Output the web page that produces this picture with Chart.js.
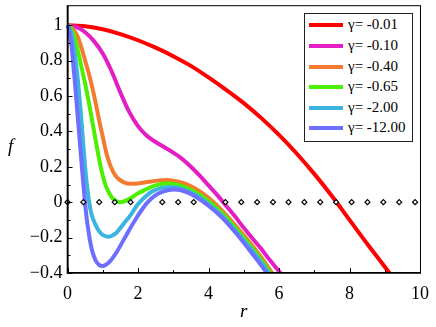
<!DOCTYPE html>
<html>
<head>
<meta charset="utf-8">
<script src="https://cdn.jsdelivr.net/npm/chart.js@4/dist/chart.umd.min.js"></script>
<style>
  html, body { margin: 0; padding: 0; background: #fff; }
  #wrap { position: relative; width: 436px; height: 327px; }
  #plot { position: absolute; left: 0; top: 0; }
  .axis-title { position: absolute; font-family: "Liberation Serif", "Times New Roman", serif; font-style: italic; font-size: 19px; color: #000; }
  #legend { position: absolute; left: 304px; top: 13px; width: 109px; height: 129px; border: 1px solid #222; box-sizing: border-box; background: #fff; }
  .leg-row { position: absolute; left: 0; height: 20px; width: 100%; }
  .leg-line { position: absolute; left: 4px; top: 8px; width: 34px; height: 4px; }
  .leg-text { position: absolute; left: 43px; top: 1px; font-family: "Liberation Serif", "Times New Roman", serif; font-size: 15px; color: #000; white-space: nowrap; }
</style>
</head>
<body>
<div id="wrap">
  <canvas id="plot" width="436" height="327"></canvas>
  <div class="axis-title" style="left:8px; top:135px;">f</div>
  <div class="axis-title" style="left:240px; top:300px;">r</div>
  <div id="legend"></div>
</div>
<script>
// ===== DATA =====
const gammaLabels = ['γ= -0.01', 'γ= -0.10', 'γ= -0.40', 'γ= -0.65', 'γ= -2.00', 'γ= -12.00'];
const lineColors = ['#ff0000', '#e31ec4', '#f47a30', '#4cf000', '#3cb4e0', '#6e6eff'];

const rRed = [0, 0.5, 1, 1.5, 2, 2.5, 3, 3.5, 4, 4.5, 5, 5.5, 6, 6.5, 7, 7.5, 8, 8.5, 9, 9.5];
const fRed = [1, 0.994, 0.977, 0.95, 0.915, 0.873, 0.825, 0.77, 0.705, 0.635, 0.56, 0.475, 0.38, 0.275, 0.16, 0.035, -0.1, -0.235, -0.365, -0.5];

const rMagenta = [0, 0.25, 0.5, 0.75, 1, 1.25, 1.5, 1.75, 2, 2.25, 2.5, 2.75, 3, 3.25, 3.5, 3.75, 4, 4.25, 4.5, 4.75, 5, 5.25, 5.5, 5.75, 6, 6.25];
const fMagenta = [1, 0.99, 0.96, 0.91, 0.84, 0.74, 0.62, 0.51, 0.43, 0.375, 0.34, 0.31, 0.28, 0.245, 0.2, 0.15, 0.095, 0.04, -0.02, -0.08, -0.145, -0.205, -0.265, -0.33, -0.39, -0.455];

const rOrange = [0, 0.1, 0.2, 0.3, 0.4, 0.5, 0.6, 0.7, 0.8, 0.9, 1, 1.1, 1.2, 1.3, 1.4, 1.6, 1.8, 2, 2.3, 2.6, 2.8, 3, 3.3, 3.6, 4, 4.4, 4.8, 5.2, 5.6, 5.9];
const fOrange = [1, 0.99, 0.965, 0.93, 0.87, 0.8, 0.73, 0.65, 0.56, 0.46, 0.37, 0.28, 0.215, 0.17, 0.14, 0.112, 0.104, 0.106, 0.115, 0.123, 0.125, 0.122, 0.108, 0.08, 0.025, -0.05, -0.14, -0.235, -0.34, -0.43];

const rGreen = [0, 0.1, 0.2, 0.3, 0.4, 0.5, 0.6, 0.7, 0.8, 0.9, 1, 1.1, 1.2, 1.3, 1.4, 1.5, 1.6, 1.8, 2, 2.2, 2.4, 2.6, 2.8, 3, 3.2, 3.6, 4, 4.4, 4.8, 5.2, 5.6, 5.85];
const fGreen = [1, 0.98, 0.93, 0.85, 0.76, 0.67, 0.57, 0.46, 0.35, 0.24, 0.15, 0.085, 0.045, 0.018, 0.005, 0, 0.004, 0.024, 0.05, 0.07, 0.088, 0.1, 0.105, 0.103, 0.095, 0.06, 0.005, -0.065, -0.155, -0.25, -0.355, -0.43];

const rCyan = [0, 0.1, 0.15, 0.2, 0.25, 0.3, 0.35, 0.4, 0.45, 0.5, 0.55, 0.6, 0.65, 0.7, 0.8, 0.9, 1, 1.15, 1.3, 1.4, 1.6, 1.8, 2, 2.2, 2.4, 2.6, 2.8, 3, 3.2, 3.6, 4, 4.4, 4.8, 5.2, 5.6, 5.8];
const fCyan = [1, 0.96, 0.91, 0.85, 0.77, 0.68, 0.57, 0.45, 0.32, 0.2, 0.1, 0.02, -0.04, -0.08, -0.13, -0.165, -0.185, -0.195, -0.185, -0.17, -0.12, -0.07, -0.01, 0.03, 0.06, 0.077, 0.085, 0.085, 0.078, 0.045, -0.01, -0.08, -0.17, -0.265, -0.37, -0.43];

const rPurple = [0, 0.05, 0.1, 0.15, 0.2, 0.25, 0.3, 0.35, 0.4, 0.45, 0.5, 0.55, 0.6, 0.65, 0.7, 0.8, 0.9, 1, 1.2, 1.4, 1.6, 1.8, 2, 2.25, 2.5, 2.75, 3, 3.25, 3.6, 4, 4.4, 4.8, 5.2, 5.6, 5.75];
const fPurple = [1, 0.97, 0.91, 0.81, 0.7, 0.58, 0.46, 0.34, 0.22, 0.1, -0.01, -0.1, -0.17, -0.23, -0.275, -0.33, -0.355, -0.36, -0.335, -0.28, -0.21, -0.14, -0.075, -0.005, 0.04, 0.063, 0.072, 0.066, 0.035, -0.02, -0.09, -0.18, -0.28, -0.385, -0.43];

// dotted zero line (diamond markers)
const rDiamonds = [0, 0.45, 0.9, 1.34, 1.79, 2.69, 3.14, 3.58, 4.48, 4.93, 5.38, 5.83, 6.27, 6.72, 7.17, 7.62, 8.06, 8.51, 8.96, 9.41, 9.86];
const fDiamonds = [0, 0, 0, 0, 0, 0, 0, 0, 0, 0, 0, 0, 0, 0, 0, 0, 0, 0, 0, 0, 0];

const curves = [[rRed, fRed], [rMagenta, fMagenta], [rOrange, fOrange], [rGreen, fGreen], [rCyan, fCyan], [rPurple, fPurple]];

const toPoints = (xs, ys) => xs.map((x, i) => ({ x, y: ys[i] }));

// ===== LEGEND (html) =====
const legendEl = document.getElementById('legend');
const rowTops = [1, 22, 42.5, 63, 83.5, 104];
legendEl.innerHTML = gammaLabels.map((lab, i) =>
  `<div class="leg-row" style="top:${rowTops[i]}px">
     <div class="leg-line" style="background:${lineColors[i]}"></div>
     <div class="leg-text">${lab}</div>
   </div>`).join('');

// ===== PLUGINS =====
const frameAndTicks = {
  id: 'frameAndTicks',
  afterDatasetsDraw(chart) {
    const { ctx, chartArea: a, scales: { x, y } } = chart;
    ctx.save();
    ctx.strokeStyle = '#000';
    ctx.lineWidth = 1;
    ctx.strokeRect(a.left + 0.5, a.top + 0.5, a.right - a.left, a.bottom - a.top - 1);
    ctx.lineWidth = 1.6;
    ctx.beginPath();
    ctx.moveTo(a.left, a.top); ctx.lineTo(a.left, a.bottom); ctx.lineTo(a.right + 1, a.bottom);
    ctx.stroke();
    ctx.lineWidth = 1;
    ctx.beginPath();
    x.ticks.forEach(t => {
      if (Math.abs(t.value - Math.round(t.value)) > 1e-6) return;
      const px = Math.round(x.getPixelForValue(t.value)) + 0.5;
      const len = t.label ? 5 : 3;
      ctx.moveTo(px, a.bottom); ctx.lineTo(px, a.bottom - len);
    });
    y.ticks.forEach(t => {
      const k = t.value * 10;
      if (Math.abs(k - Math.round(k)) > 1e-6) return;
      const py = Math.round(y.getPixelForValue(t.value)) + 0.5;
      const len = t.label ? 5 : 3;
      ctx.moveTo(a.left, py); ctx.lineTo(a.left + len, py);
    });
    ctx.stroke();
    ctx.restore();
  }
};

// ===== CHART =====
const datasets = curves.map((c, i) => ({
  label: gammaLabels[i],
  data: toPoints(c[0], c[1]),
  borderColor: lineColors[i],
  backgroundColor: lineColors[i],
  borderWidth: 4,
  showLine: true,
  pointRadius: 0,
  cubicInterpolationMode: 'monotone',
  clip: { left: 3, top: 3, right: 0, bottom: 0 },
  order: 6 - i
}));
datasets.push({
  label: 'zero',
  data: toPoints(rDiamonds, fDiamonds),
  showLine: false,
  pointStyle: 'rectRot',
  pointRadius: 2.5,
  borderWidth: 1.2,
  borderColor: '#000',
  backgroundColor: '#fff',
  clip: false,
  order: 0
});

const fmt = v => {
  const s = Math.abs(v) < 1e-9 ? '0' : String(+v.toFixed(1));
  return s.replace('-', '−');
};

const tickFont = { family: "'Liberation Serif', 'Times New Roman', serif", size: 18 };

new Chart(document.getElementById('plot'), {
  type: 'scatter',
  data: { datasets },
  options: {
    responsive: false,
    animation: false,
    events: [],
    layout: { padding: { left: 0, top: 5, right: 16, bottom: 0 } },
    plugins: { legend: { display: false }, tooltip: { enabled: false } },
    scales: {
      x: {
        type: 'linear', min: 0, max: 10,
        grid: { display: false, drawTicks: false },
        border: { display: false },
        ticks: {
          stepSize: 1, padding: 10, color: '#000', maxRotation: 0, autoSkip: false,
          font: tickFont,
          callback: v => (Math.abs(v - Math.round(v)) < 1e-6 && Math.round(v) % 2 === 0) ? String(Math.round(v)) : ''
        },
        afterFit: s => { s.height = 54; s.paddingLeft = 0; s.paddingRight = 0; }
      },
      y: {
        type: 'linear', min: -0.4, max: 1.113,
        grid: { display: false, drawTicks: false },
        border: { display: false },
        ticks: {
          stepSize: 0.1, padding: 5, color: '#000', autoSkip: false,
          font: tickFont,
          callback: v => {
            const k = v * 10;
            if (Math.abs(k - Math.round(k)) > 1e-6) return '';
            if (Math.round(k) % 2 !== 0) return '';
            return fmt(v);
          }
        },
        afterFit: s => { s.width = 67.5; s.paddingTop = 0; s.paddingBottom = 0; }
      }
    }
  },
  plugins: [frameAndTicks]
});
</script>
</body>
</html>
